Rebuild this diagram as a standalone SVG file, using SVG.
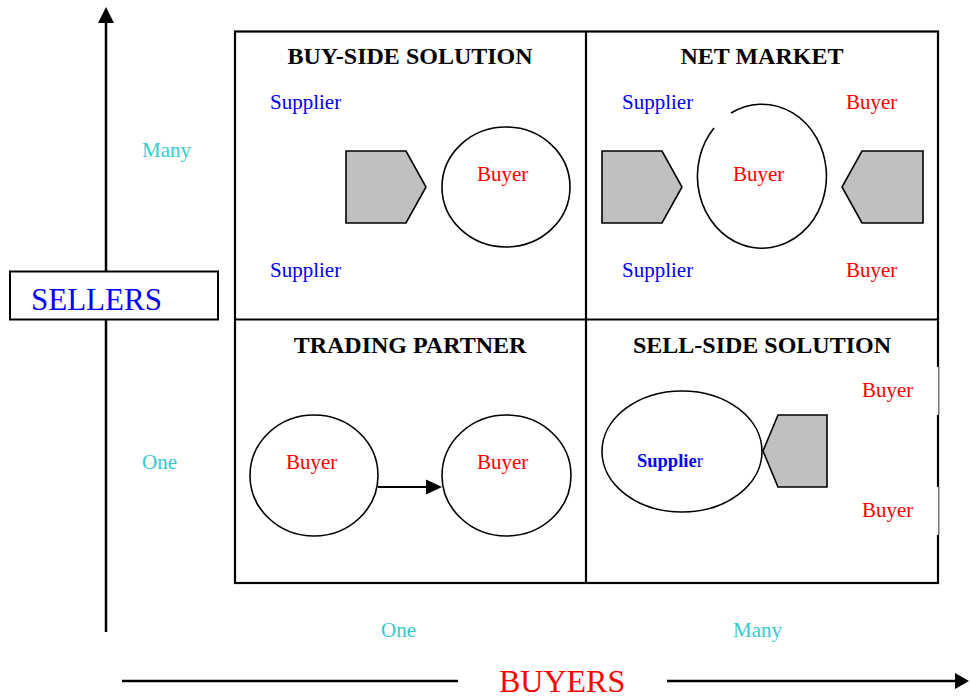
<svg xmlns="http://www.w3.org/2000/svg" width="970" height="698" viewBox="0 0 970 698">
<style>
text{font-family:"Liberation Serif","Times New Roman",serif}
.t{font-size:24px;font-weight:bold;fill:#000;text-anchor:middle}
.s{font-size:21px;fill:#0000ff}
.b{font-size:21px;fill:#ff0000}
.c{font-size:21px;fill:#33cccc}
.ln{stroke:#000;stroke-width:2.2;fill:none}
.pent{fill:#c0c0c0;stroke:#000;stroke-width:1.6}
.ell{fill:#fff;stroke:#000;stroke-width:1.6}
</style>
<rect width="970" height="698" fill="#fff"/>

<g id="connectors">
<line x1="106" y1="632" x2="106" y2="23" stroke="#000" stroke-width="2.5"/>
<polygon points="106,7 98,23 114,23" fill="#000"/>
<line x1="122" y1="681" x2="458" y2="681" stroke="#000" stroke-width="2.5"/>
<line x1="667" y1="681" x2="955" y2="681" stroke="#000" stroke-width="2.5"/>
<polygon points="969,681 955,673 955,689" fill="#000"/>
<line x1="378" y1="487" x2="427" y2="487" stroke="#000" stroke-width="2.2"/>
<polygon points="442,487 426,479.5 426,494.5" fill="#000"/>
</g>

<g id="sellers-axis-label">
<rect x="10" y="271.5" width="208" height="48" fill="#fff" stroke="#000" stroke-width="2"/>
<text x="31" y="310" style="font-size:31px;fill:#0000ff">SELLERS</text>
</g>

<g id="grid">
<rect x="235" y="31.5" width="703" height="551.5" class="ln"/>
<line x1="586" y1="31.5" x2="586" y2="583" class="ln"/>
<line x1="235" y1="319.5" x2="938" y2="319.5" class="ln"/>
<rect x="936.5" y="367" width="3" height="48" fill="#fff"/>
<rect x="936.5" y="487" width="3" height="48" fill="#fff"/>
<line x1="938.8" y1="367" x2="938.8" y2="415" stroke="#000" stroke-width="0.8"/>
<line x1="938.8" y1="487" x2="938.8" y2="535" stroke="#000" stroke-width="0.8"/>
</g>

<g id="axis-labels">
<text class="c" x="142" y="157">Many</text>
<text class="c" x="142" y="469">One</text>
<text class="c" x="381" y="637">One</text>
<text class="c" x="733" y="637">Many</text>
<text x="499" y="692" style="font-size:32px;fill:#ff0000">BUYERS</text>
</g>

<g id="buy-side">
<text class="t" x="410" y="64">BUY-SIDE SOLUTION</text>
<text class="s" x="270" y="109">Supplier</text>
<text class="s" x="270" y="277">Supplier</text>
<polygon class="pent" points="346,151 406,151 426,187 406,223 346,223"/>
<ellipse class="ell" cx="506" cy="187" rx="64" ry="60"/>
<text class="b" x="477" y="181">Buyer</text>
</g>

<g id="net-market">
<text class="t" x="762" y="64">NET MARKET</text>
<text class="s" x="622" y="109">Supplier</text>
<text class="s" x="622" y="277">Supplier</text>
<text class="b" x="846" y="109">Buyer</text>
<text class="b" x="846" y="277">Buyer</text>
<polygon class="pent" points="602,151 662,151 682,187 662,223 602,223"/>
<polygon class="pent" points="923,151 862,151 842,187 862,223 923,223"/>
<path d="M731,113 A64.5,72 0 1 1 714,128" fill="none" stroke="#000" stroke-width="1.6"/>
<text class="b" x="733" y="181">Buyer</text>
</g>

<g id="trading-partner">
<text class="t" x="410" y="353">TRADING PARTNER</text>
<ellipse class="ell" cx="314" cy="475.5" rx="64" ry="60.5"/>
<text class="b" x="286" y="469">Buyer</text>
<ellipse class="ell" cx="506.5" cy="475.5" rx="64.5" ry="60.5"/>
<text class="b" x="477" y="469">Buyer</text>
</g>

<g id="sell-side">
<text class="t" x="762" y="353">SELL-SIDE SOLUTION</text>
<ellipse class="ell" cx="682" cy="451.5" rx="80" ry="60.5"/>
<text x="637" y="467" style="font-size:18.5px;fill:#0000ff"><tspan font-weight="bold">Supplie</tspan>r</text>
<polygon class="pent" points="763,451 778,415 827,415 827,487 778,487"/>
<text class="b" x="862" y="397">Buyer</text>
<text class="b" x="862" y="517">Buyer</text>
</g>
</svg>
